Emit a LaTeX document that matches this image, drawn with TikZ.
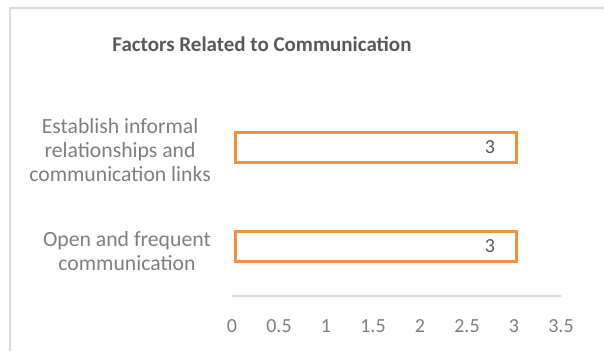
\documentclass[tikz,border=0pt]{standalone}
\usepackage{fontspec}
\setmainfont{Carlito}
\usetikzlibrary{positioning}
\usetikzlibrary{calc}
\definecolor{bar-orange}{HTML}{F0923F}
\definecolor{frame-gray}{HTML}{D9D9D9}
\definecolor{label-gray}{HTML}{7F7F7F}
\definecolor{title-gray}{HTML}{595959}
\colorlet{bar}{bar-orange}
\colorlet{grid}{frame-gray}
\tikzset{
  barbox/.style={draw=bar,line width=3pt,fill=white,minimum height=30pt,inner sep=0pt,anchor=west},
  catlabel/.style={text=label-gray,align=center,anchor=east,inner sep=0pt,font=\fontsize{21.7}{24}\selectfont},
  ticklabel/.style={text=label-gray,font=\fontsize{20}{24}\selectfont},
  valuelabel/.style={text=title-gray,font=\fontsize{20}{24}\selectfont}
}
\begin{document}
\begin{tikzpicture}[x=1pt,y=-1pt]
\useasboundingbox (0,0) rectangle (604,351);
% chart frame
\draw[grid,line width=2pt] (10,351) -- (10,8) -- (604,8);
\node[font=\bfseries\fontsize{21}{25}\selectfont,text=title-gray] (title) at (262,44) {Factors Related to Communication};
% axis line
\coordinate (origin) at (232,296);
\coordinate (axisend) at (561,296);
\draw[grid,line width=1.5pt] (origin) -- (axisend);
% ticks, 94pt per unit
\foreach \val in {0,0.5,1,1.5,2,2.5,3,3.5} {
  \node[ticklabel] (tick-\val) at ($(origin)+(94*\val,30)$) {\val};
}
% bars
\node[barbox,minimum width=281pt] (bar1) at (233.5,147) {};
\node[barbox,minimum width=281pt] (bar2) at (233.5,246.5) {};
\node[valuelabel,left=19pt of bar1.east] (val1) {3};
\node[valuelabel,left=19pt of bar2.east] (val2) {3};
% categories
\node[catlabel] (cat1) at (211,150) {Establish informal\\relationships and\\communication links};
\node[catlabel] (cat2) at (211,251) {Open and frequent\\communication};
\end{tikzpicture}
\end{document}
